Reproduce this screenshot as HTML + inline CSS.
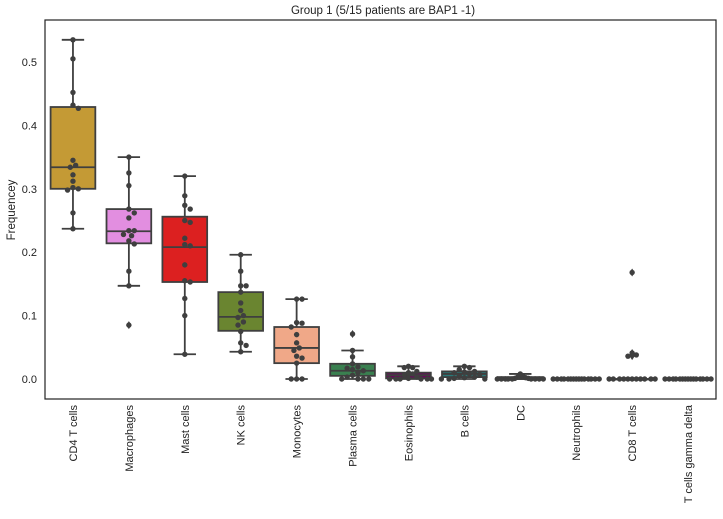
<!DOCTYPE html>
<html><head><meta charset="utf-8">
<style>body{margin:0;background:#fff;font-family:"Liberation Sans",sans-serif}</style></head>
<body>
<svg id="chart" width="723" height="514" xmlns="http://www.w3.org/2000/svg"></svg>
<script>
const categories=["CD4 T cells","Macrophages","Mast cells","NK cells","Monocytes","Plasma cells","Eosinophils","B cells","DC","Neutrophils","CD8 T cells","T cells gamma delta"];
const colors=["#c49a35","#e28ee0","#dc2020","#6a8530","#f0a888","#3a8050","#700060","#2a7878","#888","#888","#888","#888"];
const q1=[0.300,0.214,0.153,0.076,0.025,0.005,0.001,0.003,0,0,0,0];
const med=[0.334,0.233,0.208,0.098,0.049,0.013,0.006,0.008,0.001,0,0,0];
const q3=[0.429,0.268,0.256,0.137,0.082,0.024,0.010,0.012,0.003,0,0,0];
const wlo=[0.237,0.147,0.039,0.043,0,0,0,0,0,0,0,0];
const whi=[0.535,0.350,0.320,0.196,0.126,0.045,0.020,0.020,0.008,0,0,0];
const fliers=[[],[0.085],[],[],[],[0.071],[],[],[],[],[0.168,0.041,0.038,0.036],[]];
const points=[
[0.535,0.505,0.452,0.432,0.427,0.345,0.337,0.334,0.322,0.312,0.302,0.300,0.298,0.262,0.237],
[0.35,0.325,0.305,0.268,0.262,0.254,0.234,0.234,0.228,0.226,0.218,0.213,0.17,0.147,0.085],
[0.32,0.289,0.274,0.268,0.250,0.247,0.222,0.212,0.21,0.18,0.155,0.153,0.127,0.10,0.039],
[0.196,0.17,0.147,0.147,0.137,0.12,0.108,0.10,0.097,0.09,0.085,0.075,0.057,0.053,0.043],
[0.126,0.126,0.089,0.088,0.082,0.070,0.057,0.049,0.045,0.036,0.033,0.025,0,0,0],
[0.071,0.045,0.035,0.024,0.019,0.017,0.015,0.013,0.010,0.006,0.003,0,0,0,0],
[0.02,0.018,0.018,0.012,0.01,0.008,0.006,0.003,0.001,0,0,0,0,0,0],
[0.02,0.018,0.015,0.012,0.011,0.01,0.008,0.007,0.005,0.003,0.002,0.001,0,0,0],
[0.008,0.004,0.003,0.002,0.001,0.001,0,0,0,0,0,0,0,0,0],
[0,0,0,0,0,0,0,0,0,0,0,0,0,0,0],
[0.168,0.041,0.038,0.036,0,0,0,0,0,0,0,0,0,0,0],
[0,0,0,0,0,0,0,0,0,0,0,0,0,0,0]];
const yTicks=[0.0,0.1,0.2,0.3,0.4,0.5];
const L=45,R=716,T=20,B=399;
const y=v=>379-v*634;
const bw=(R-L)/categories.length;
const x=i=>L+bw*(i+0.5);
const svg=document.getElementById('chart');
const NS="http://www.w3.org/2000/svg";
function mk(tag,a,parent){const e=document.createElementNS(NS,tag);for(const k in a)e.setAttribute(k,a[k]);(parent||svg).appendChild(e);return e;}
let t=mk('text',{x:383,y:14,'text-anchor':'middle','font-size':11.5,fill:'#222'});t.textContent="Group 1 (5/15 patients are BAP1 -1)";

t=mk('text',{x:15,y:210,'text-anchor':'middle','font-size':11.5,fill:'#222',transform:'rotate(-90 15 210)'});t.textContent="Frequencey";

yTicks.forEach(v=>{const e=mk('text',{x:37,y:y(v)+4,'text-anchor':'end','font-size':11,fill:'#222'});e.textContent=v.toFixed(1);
});
const S="#3f3f3f";
categories.forEach((c,i)=>{
 const g=mk('g',{});
 
 
 const cx=x(i),hw=bw*0.4,cw=bw*0.2;
 mk('line',{x1:cx,x2:cx,y1:y(whi[i]),y2:y(q3[i]),stroke:S,'stroke-width':1.8},g);
 mk('line',{x1:cx,x2:cx,y1:y(q1[i]),y2:y(wlo[i]),stroke:S,'stroke-width':1.8},g);
 mk('line',{x1:cx-cw,x2:cx+cw,y1:y(whi[i]),y2:y(whi[i]),stroke:S,'stroke-width':1.8},g);
 mk('line',{x1:cx-cw,x2:cx+cw,y1:y(wlo[i]),y2:y(wlo[i]),stroke:S,'stroke-width':1.8},g);
 mk('rect',{x:cx-hw,y:y(q3[i]),width:2*hw,height:Math.max(y(q1[i])-y(q3[i]),0.5),fill:colors[i],stroke:S,'stroke-width':1.8},g);
 mk('line',{x1:cx-hw,x2:cx+hw,y1:y(med[i]),y2:y(med[i]),stroke:S,'stroke-width':1.8},g);
 fliers[i].forEach(v=>{mk('path',{d:`M${cx} ${y(v)-4}L${cx+2.6} ${y(v)}L${cx} ${y(v)+4}L${cx-2.6} ${y(v)}Z`,fill:S},g);});
 const placed=[],r=2.7,d=5.4;
 points[i].forEach(v=>{const py=y(v);let best=0;
  for(let k=0;k<60;k++){const off=(k%2?1:-1)*Math.ceil(k/2)*d*0.5;
   if(placed.every(p=>Math.hypot(p[0]-off,p[1]-py)>=d)){best=off;break;}}
  placed.push([best,py]);});
 let mx=Math.max(...placed.map(p=>Math.abs(p[0])));
 const sc=mx>23?23/mx:1;
 placed.forEach(p=>{
  const dot=mk('circle',{cx:cx+p[0]*sc,cy:p[1],r:r,fill:S},g);
  
  });
 const lx=cx+4,ly=405;
 const lab=mk('text',{x:lx,y:ly,'text-anchor':'end','font-size':11,fill:'#222',transform:`rotate(-90 ${lx} ${ly})`});
 lab.textContent=c;
 
 
});
const fr=mk('rect',{x:L,y:T,width:R-L,height:B-T,fill:'none',stroke:'#222','stroke-width':1.2});

</script>
</body></html>
